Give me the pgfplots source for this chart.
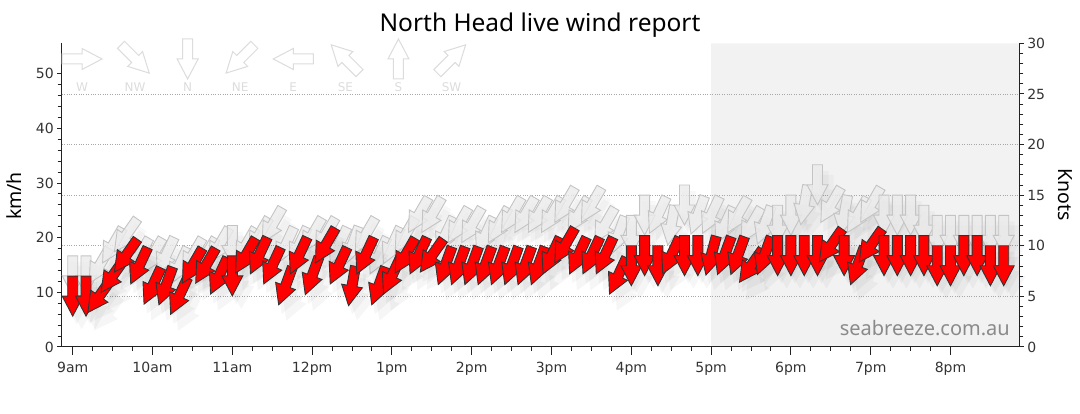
\documentclass[border=0pt]{standalone}
\usepackage{fontspec}
\setmainfont{DejaVu Sans}
\newfontfamily\labfont{Noto Sans}
\usepackage{pgfplots}
\pgfplotsset{compat=1.18}
\usepackage{pgfplotstable}

\definecolor{night}{HTML}{F2F2F2}
\definecolor{gustfill}{HTML}{EBEBEB}
\definecolor{gustline}{HTML}{C4C4C4}
\definecolor{arrowline}{HTML}{333333}
\definecolor{legline}{HTML}{DCDCDC}
\definecolor{axisc}{HTML}{222222}
\definecolor{tickc}{HTML}{333333}
\definecolor{gridc}{HTML}{A8A8A8}
\definecolor{wmark}{HTML}{8A8A8A}
\definecolor{windred}{HTML}{FF0000}

\pgfdeclareplotmark{windarrow}{%
  \pgfpathmoveto{\pgfqpoint{-5pt}{20pt}}%
  \pgfpathlineto{\pgfqpoint{5pt}{20pt}}%
  \pgfpathlineto{\pgfqpoint{5pt}{0pt}}%
  \pgfpathlineto{\pgfqpoint{10.5pt}{0pt}}%
  \pgfpathlineto{\pgfqpoint{0pt}{-20pt}}%
  \pgfpathlineto{\pgfqpoint{-10.5pt}{0pt}}%
  \pgfpathlineto{\pgfqpoint{-5pt}{0pt}}%
  \pgfpathclose
  \pgfusepathqfillstroke
}
\pgfdeclareplotmark{windshadow}{%
  \pgfpathmoveto{\pgfqpoint{-7pt}{20pt}}%
  \pgfpathlineto{\pgfqpoint{7pt}{20pt}}%
  \pgfpathlineto{\pgfqpoint{7pt}{1pt}}%
  \pgfpathlineto{\pgfqpoint{13pt}{1pt}}%
  \pgfpathlineto{\pgfqpoint{0pt}{-22pt}}%
  \pgfpathlineto{\pgfqpoint{-13pt}{1pt}}%
  \pgfpathlineto{\pgfqpoint{-7pt}{1pt}}%
  \pgfpathclose
  \pgfusepathqfill
}

\pgfplotsset{
  windmarks/.style n args={3}{scatter, only marks, mark=#1,
    visualization depends on={\thisrow{#2}\as\wang},
    scatter/@pre marker code/.code={\pgfscope\pgftransformshift{\pgfqpoint{0pt}{#3}}\pgftransformrotate{-\wang}},
    scatter/@post marker code/.code={\endpgfscope}},
  chartframe/.style={
    at={(61.7pt,67pt)}, anchor=south west,
    scale only axis, width=957.6pt, height=303.7pt,
    xmin=8.862, xmax=20.862,
    axis line style={-, draw=axisc, line width=1pt},
    tick align=outside,
    tick style={draw=axisc, line width=1pt},
    /pgf/number format/assume math mode=true,
    ticklabel style={font=\fontsize{14}{16}\selectfont, text=tickc},
  },
}

% t = time (h), s = speed (km/h), a = direction (deg from), g = gust (km/h), ga = gust direction
\pgfplotstableread{
t s a g ga
9.0000 12.96 0 16.67 0
9.1667 12.96 0 16.67 0
9.3333 12.96 35 18.52 30
9.5000 16.67 35 22.22 30
9.6667 20.37 35 24.08 35
9.8333 18.52 25 20.37 30
10.0000 14.82 25 20.37 30
10.1667 14.82 20 20.37 25
10.3333 12.96 25 18.52 25
10.5000 18.52 30 20.37 30
10.6667 18.52 30 20.37 30
10.8333 16.67 25 22.22 30
11.0000 16.67 0 22.22 0
11.1667 20.37 30 22.22 30
11.3333 20.37 25 24.08 30
11.5000 18.52 25 25.93 30
11.6667 14.82 20 22.22 25
11.8333 20.37 25 22.22 25
12.0000 16.67 20 24.08 30
12.1667 22.22 30 24.08 30
12.3333 18.52 25 22.22 25
12.5000 14.82 10 22.22 20
12.6667 20.37 25 24.08 30
12.8333 14.82 20 20.37 25
13.0000 16.67 25 22.22 25
13.1667 20.37 30 24.08 30
13.3333 20.37 25 27.78 30
13.5000 20.37 35 27.78 30
13.6667 18.52 20 24.08 25
13.8333 18.52 20 25.93 30
14.0000 18.52 20 25.93 30
14.1667 18.52 20 24.08 25
14.3333 18.52 20 25.93 30
14.5000 18.52 20 27.78 30
14.6667 18.52 20 27.78 30
14.8333 18.52 20 27.78 30
15.0000 20.37 25 27.78 30
15.1667 22.22 30 29.63 30
15.3333 20.37 25 27.78 30
15.5000 20.37 25 29.63 30
15.6667 20.37 25 25.93 30
15.8333 16.67 25 24.08 20
16.0000 18.52 0 24.08 0
16.1667 20.37 0 27.78 0
16.3333 18.52 0 27.78 25
16.5000 20.37 25 25.93 10
16.6667 20.37 0 29.63 0
16.8333 20.37 0 27.78 20
17.0000 20.37 15 27.78 25
17.1667 20.37 20 25.93 25
17.3333 20.37 20 27.78 30
17.5000 18.52 35 25.93 30
17.6667 20.37 20 25.93 20
17.8333 20.37 0 25.93 0
18.0000 20.37 0 27.78 0
18.1667 20.37 0 29.63 10
18.3333 20.37 0 33.34 0
18.5000 22.22 35 29.63 30
18.6667 20.37 0 27.78 10
18.8333 18.52 20 27.78 30
19.0000 22.22 35 29.63 30
19.1667 20.37 0 27.78 0
19.3333 20.37 0 27.78 0
19.5000 20.37 0 27.78 0
19.6667 20.37 0 25.93 0
19.8333 18.52 0 24.08 0
20.0000 18.52 0 24.08 0
20.1667 20.37 0 24.08 0
20.3333 20.37 0 24.08 0
20.5000 18.52 0 24.08 0
20.6667 18.52 0 24.08 0
}\wind

\pgfplotstableread{
t y a
9.117 52.69 270
9.782 52.69 315
10.440 52.69 0
11.099 52.69 45
11.764 52.69 90
12.417 52.69 135
13.082 52.69 180
13.747 52.69 225
}\legarrows

\pgfplotstableread{
t y lab
9.117 47.57 W
9.782 47.57 NW
10.440 47.57 N
11.099 47.57 NE
11.764 47.57 E
12.417 47.57 SE
13.082 47.57 S
13.747 47.57 SW
}\leglabels

\begin{document}
\begin{tikzpicture}
\path (0,0) rectangle (1080pt,414pt);
% night shading and time axis
\begin{axis}[
  chartframe,
  ymin=0, ymax=55.56,
  axis x line*=bottom, axis y line=none,
  major tick length=8pt, minor tick length=4pt,
  xtick={9,...,20},
  xticklabels={9am,10am,11am,12pm,1pm,2pm,3pm,4pm,5pm,6pm,7pm,8pm},
  minor x tick num=3,
  xticklabel style={yshift=-4pt},
]
\addplot[fill=night, draw=none, mark=none] coordinates {(17,0) (17,55.56) (20.862,55.56) (20.862,0)} \closedcycle;
\end{axis}

\begin{axis}[
  chartframe,
  ymin=0, ymax=55.56,
  axis x line*=bottom, axis y line*=left,
  major tick length=4.5pt, minor tick length=4pt,
  xtick=\empty,
  ytick={0,10,...,50},
  minor y tick num=4,
  extra y ticks={9.26,18.52,27.78,37.04,46.30},
  extra y tick labels={},
  extra y tick style={grid=major, major tick length=0pt},
  major grid style={gridc, line width=0.8pt, dash pattern=on 0.8pt off 1.6pt},
  clip=false,
]
% direction legend
\addplot[windmarks={windarrow}{a}{0pt}, mark options={fill=white, draw=legline, line width=1pt}]
  table[x=t,y=y] {\legarrows};
\addplot[only marks, mark=none, nodes near coords, point meta=explicit symbolic,
  nodes near coords style={anchor=center, inner sep=0pt, font=\fontsize{12}{14}\selectfont, text=legline}]
  table[x=t,y=y,meta=lab] {\leglabels};

% gust shadows
\addplot[windmarks={windshadow}{ga}{-26pt}, mark options={fill=black, fill opacity=0.028, draw=none, xshift=4pt}]
  table[x=t,y=g] {\wind};
\addplot[windmarks={windshadow}{ga}{-30pt}, mark options={fill=black, fill opacity=0.028, draw=none, xshift=9pt}]
  table[x=t,y=g] {\wind};
% gusts
\addplot[windmarks={windarrow}{ga}{-20pt}, mark options={fill=gustfill, fill opacity=0.8, draw=gustline, line width=0.9pt}]
  table[x=t,y=g] {\wind};
% speed shadows
\addplot[windmarks={windshadow}{a}{-26pt}, mark options={fill=black, fill opacity=0.035, draw=none, xshift=4pt}]
  table[x=t,y=s] {\wind};
\addplot[windmarks={windshadow}{a}{-31pt}, mark options={fill=black, fill opacity=0.035, draw=none, xshift=9pt}]
  table[x=t,y=s] {\wind};
% speeds
\addplot[windmarks={windarrow}{a}{-20pt}, mark options={fill=windred, draw=arrowline, line width=0.9pt}]
  table[x=t,y=s] {\wind};
\end{axis}

\begin{axis}[
  chartframe,
  ymin=0, ymax=30,
  axis x line=none, axis y line*=right,
  major tick length=4.5pt, minor tick length=4pt,
  ytick={0,5,...,30},
  minor y tick num=4,
]
\addplot[draw=none, mark=none] coordinates {(9,0) (10,1)};
\end{axis}

\node[anchor=base, font=\labfont\fontsize{24.5}{28}\selectfont] at (540pt,382.3pt) {North Head live wind report};
\node[rotate=90, font=\labfont\fontsize{19.5}{22}\selectfont] at (14.5pt,218pt) {km/h};
\node[rotate=-90, font=\labfont\fontsize{19.5}{22}\selectfont] at (1065pt,219pt) {Knots};
\node[anchor=base east, inner sep=0pt, font=\labfont\fontsize{20}{22}\selectfont, text=wmark] at (1010pt,78pt) {seabreeze.com.au};
\pgfresetboundingbox
\path[use as bounding box] (0,0) rectangle (1080pt,414pt);
\end{tikzpicture}
\end{document}
